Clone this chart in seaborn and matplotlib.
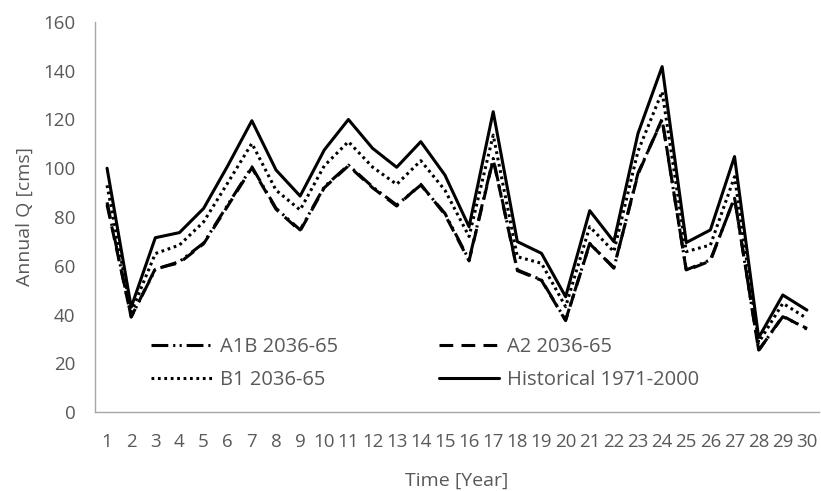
import numpy as np
import pandas as pd
import matplotlib
matplotlib.use("Agg")
import matplotlib.pyplot as plt
import seaborn as sns

# annual discharge per year index
years = list(range(1, 31))
historical = [100, 43, 71.5, 73.6, 83.5, 101, 119.5, 99.3, 88.6, 107.5,
              120, 108.2, 100.4, 110.9, 97.2, 76, 123.2, 69.9, 65.1, 47.3,
              82.6, 69.9, 114.3, 141.7, 69.5, 74.7, 104.8, 30.5, 48, 41.8]
b1 = [93, 41, 65, 68.5, 78, 94, 110.2, 91, 82.9, 101,
      110.9, 100.5, 93.4, 103.1, 91, 72, 113.6, 63.7, 61, 43.2,
      76, 65.8, 107, 131.4, 65.8, 68.5, 96.5, 28.5, 44.6, 38.4]
a1b = [86, 39, 58.5, 61.7, 69.3, 85, 100.6, 83.6, 74.7, 92.4,
       101.3, 92.4, 84.9, 93.1, 81.5, 62.4, 104, 58.3, 54.2, 37.7,
       69.2, 59, 98, 119.8, 58.3, 62.4, 87.7, 25.4, 39.1, 34.3]
a2 = [85, 39, 58.8, 61.2, 69, 84.5, 100.2, 83.2, 74.3, 92,
      101, 92, 84.5, 93.4, 81, 62, 103.5, 58, 54, 37.5,
      69, 59.3, 97.5, 120.3, 58, 62, 88, 25.2, 39.4, 34]

series_names = ["A1B 2036-65", "A2 2036-65", "B1 2036-65", "Historical 1971-2000"]
series_values = [a1b, a2, b1, historical]

df = pd.concat(
    [pd.DataFrame({"Year": years, "Q": v, "Scenario": n})
     for n, v in zip(series_names, series_values)],
    ignore_index=True,
)

sns.set_theme(style="white")
plt.rcParams["font.family"] = ["Open Sans", "DejaVu Sans"]

fig = plt.figure(figsize=(8.21, 4.91), dpi=100)
ax = fig.add_axes([95 / 821, 1 - 412 / 491, 724 / 821, 390 / 491])

dashes = {
    "A1B 2036-65": (5.5, 1.6, 0.7, 1.4, 0.7, 1.6),
    "A2 2036-65": (4.5, 2.7),
    "B1 2036-65": (0.9, 1.2),
    "Historical 1971-2000": "",
}
palette = {n: "black" for n in series_names}

sns.lineplot(data=df, x="Year", y="Q", hue="Scenario", style="Scenario",
             dashes=dashes, palette=palette, linewidth=2.2, ax=ax,
             legend=True)

ax.set_xlim(0.5, 30.5)
ax.set_ylim(0, 160)
ax.set_xticks(years)
ax.set_xticklabels([str(y) for y in years])
ax.set_yticks(range(0, 161, 20))

gray = "#595959"
ax.tick_params(axis="both", colors=gray, labelsize=13.5, length=0)
ax.tick_params(axis="y", pad=14)
ax.tick_params(axis="x", pad=15)
ax.set_xlabel("Time [Year]", fontsize=14, color=gray, labelpad=15)
ax.set_ylabel("Annual Q [cms]", fontsize=14, color=gray, labelpad=7)

for side in ["top", "right"]:
    ax.spines[side].set_visible(False)
for side in ["left", "bottom"]:
    ax.spines[side].set_color("#a6a6a6")
    ax.spines[side].set_linewidth(1.0)

# legend: two columns, A1B/B1 on the left, A2/Historical on the right
handles, labels = ax.get_legend_handles_labels()
lookup = dict(zip(labels, handles))
order = ["A1B 2036-65", "B1 2036-65", "A2 2036-65", "Historical 1971-2000"]
ax.legend([lookup[o] for o in order], order, ncol=2, frameon=False,
          loc="upper left", bbox_to_anchor=(0.053, 0.238),
          handlelength=3.0, columnspacing=5.0, labelspacing=0.62,
          fontsize=14.5, labelcolor=gray, handletextpad=0.4)

fig.savefig("out.png", dpi=100)
